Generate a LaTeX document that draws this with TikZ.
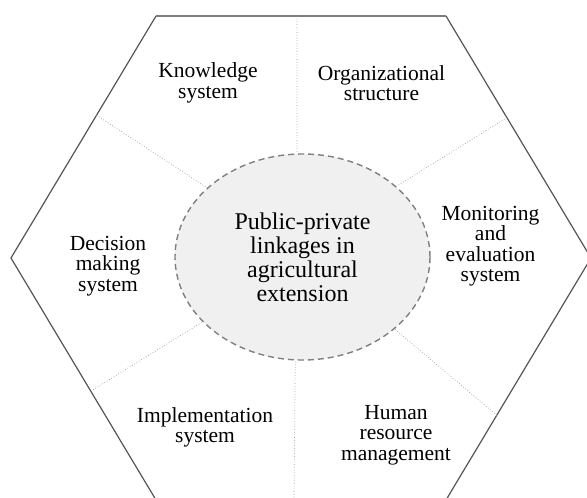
\documentclass[tikz,border=0pt]{standalone}
\usepackage{fontspec}
\setmainfont{Liberation Serif}
\usetikzlibrary{calc}
\definecolor{rimgray}{RGB}{85,85,85}
\definecolor{topgray}{RGB}{125,125,125}
\definecolor{hubgray}{RGB}{240,240,240}
\definecolor{dashgray}{RGB}{128,128,128}
\tikzset{
    rim/.style={draw=rimgray, line width=1.2pt, line join=miter},
    spoke/.style={draw=dashgray!80, line width=0.7pt, dotted},
    part/.style={align=center, inner sep=0pt, font=\fontsize{21.5}{20.5}\selectfont},
    hub/.style={ellipse, draw=dashgray, fill=hubgray, line width=1.4pt,
        dash pattern=on 6pt off 4pt, minimum width=255pt, minimum height=206pt,
        inner sep=0pt, align=center, font=\fontsize{24}{24}\selectfont}
}
\usetikzlibrary{shapes.geometric}
\begin{document}
\begin{tikzpicture}[x=1pt, y=-1pt]
    \useasboundingbox (0,0) rectangle (587,498);
    % hexagon corners
    \coordinate (TL) at (156,16);
    \coordinate (TR) at (446,16);
    \coordinate (R)  at (591,258);
    \coordinate (BR) at (446,500);
    \coordinate (BL) at (156,500);
    \coordinate (L)  at (11,258);
    \draw[rim] (TR) -- (R) -- (BR) -- (BL) -- (L) -- (TL);
    \draw[draw=topgray, line width=2pt] (TL) -- (TR);

    \node[hub] (hub) at (302.5,257) {Public-private\\linkages in\\agricultural\\extension};

    % spokes
    \coordinate (sT)  at (297,16);
    \coordinate (sB)  at (294,500);
    \coordinate (sUL) at ($(TL)!0.41!(L)$);
    \coordinate (sUR) at ($(TR)!0.42!(R)$);
    \coordinate (sLL) at ($(L)!0.55!(BL)$);
    \coordinate (sLR) at ($(R)!0.65!(BR)$);
    \draw[spoke] (sT) -- (hub.93);
    \draw[spoke] (sB) -- (hub.266);
    \draw[spoke] (sUL) -- (hub.144);
    \draw[spoke] (sUR) -- (hub.37);
    \draw[spoke] (sLL) -- (hub.213);
    \draw[spoke] (sLR) -- (hub.322);

    \node[part] (know) at (208,83) {Knowledge\\system};
    \node[part] (org)  at (381.5,83) {Organizational\\structure};
    \node[part] (mon)  at (490.5,246) {Monitoring\\and\\evaluation\\system};
    \node[part] (dec)  at (108,266) {Decision\\making\\system};
    \node[part] (impl) at (205,427.5) {Implementation\\system};
    \node[part] (hrm)  at (396,435) {Human\\resource\\management};
\end{tikzpicture}
\end{document}
